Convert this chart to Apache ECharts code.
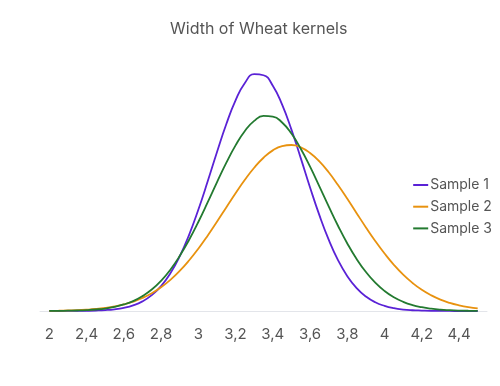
<!DOCTYPE html>
<html>
<head>
<meta charset="utf-8">
<script src="https://cdn.jsdelivr.net/npm/echarts@6/dist/echarts.min.js"></script>
<style>
  html, body { margin: 0; padding: 0; background: #ffffff; }
  #chart { width: 500px; height: 386px; }
</style>
</head>
<body>
<div id="chart"></div>
<script>
const titleText = 'Width of Wheat kernels';
// tick labels of the category axis (one per category, every second one shown)
const categories = ['2', '2,3', '2,4', '2,5', '2,6', '2,7', '2,8', '2,9', '3', '3,1', '3,2', '3,3', '3,4', '3,5', '3,6', '3,7', '3,8', '3,9', '4', '4,1', '4,2', '4,3', '4,4', '4,5'];
// kernel width positions at which the curves were read
const xs = [2.2, 2.25, 2.3, 2.35, 2.4, 2.45, 2.5, 2.55, 2.6, 2.65, 2.7, 2.75, 2.8, 2.85, 2.9, 2.95,
            3.0, 3.05, 3.1, 3.15, 3.2, 3.25, 3.3, 3.35, 3.4, 3.45, 3.5, 3.55, 3.6, 3.65, 3.7, 3.75,
            3.8, 3.85, 3.9, 3.95, 4.0, 4.05, 4.1, 4.15, 4.2, 4.25, 4.3, 4.35, 4.4, 4.45, 4.5];
const seriesNames = ['Sample 1', 'Sample 2', 'Sample 3'];
const sample1 = [0, 0.0001, 0.0003, 0.0006, 0.0014, 0.003, 0.006, 0.0117, 0.022, 0.0387,
                 0.066, 0.1086, 0.171, 0.2585, 0.375, 0.5206, 0.694, 0.887, 1.088, 1.28,
                 1.444, 1.563, 1.623, 1.616, 1.544, 1.414, 1.243, 1.048, 0.847, 0.657,
                 0.489, 0.349, 0.239, 0.157, 0.099, 0.0597, 0.035, 0.0192, 0.010, 0.0052,
                 0.003, 0.0012, 0.0005, 0.0002, 0.0001, 0, 0];
const sample2 = [0.001, 0.0021, 0.004, 0.0057, 0.009, 0.0138, 0.021, 0.0309, 0.045, 0.0639,
                 0.089, 0.1218, 0.163, 0.2138, 0.275, 0.3462, 0.427, 0.5164, 0.612, 0.71,
                 0.807, 0.8996, 0.982, 1.0505, 1.101, 1.1306, 1.138, 1.1214, 1.083, 1.0251,
                 0.951, 0.8636, 0.769, 0.6705, 0.573, 0.4798, 0.394, 0.3164, 0.249, 0.1923,
                 0.145, 0.1078, 0.078, 0.0556, 0.039, 0.0265, 0.018];
const sample3 = [0.0005, 0.001, 0.002, 0.0034, 0.006, 0.0104, 0.017, 0.0281, 0.045, 0.0681,
                 0.102, 0.1471, 0.207, 0.2833, 0.377, 0.4864, 0.610, 0.744, 0.882, 1.015,
                 1.135, 1.234, 1.303, 1.337, 1.333, 1.292, 1.216, 1.112, 0.989, 0.854,
                 0.717, 0.5845, 0.463, 0.3566, 0.267, 0.1939, 0.137, 0.0941, 0.063, 0.0407,
                 0.026, 0.0157, 0.009, 0.0054, 0.003, 0.0016, 0.001];
const colors = ['#5a22d6', '#e8920f', '#237a30'];

const chart = echarts.init(document.getElementById('chart'), null, { renderer: 'canvas' });
const font = 'Inter, "Noto Sans", sans-serif';
const values = [sample1, sample2, sample3];

chart.setOption({
  animation: false,
  color: colors,
  title: {
    text: titleText,
    left: 170,
    top: 21.5,
    padding: 0,
    textStyle: { fontFamily: font, fontSize: 16, fontWeight: 'normal', color: '#555555' }
  },
  legend: {
    orient: 'vertical',
    right: 8,
    top: 178,
    padding: 0,
    icon: 'rect',
    itemWidth: 15,
    itemHeight: 2,
    itemGap: 7.7,
    textStyle: { fontFamily: font, fontSize: 14, color: '#555555', padding: [0, 0, 0, -3] },
    data: seriesNames
  },
  grid: { left: 40, right: 13, top: 48.4, bottom: 75, containLabel: false },
  xAxis: [{
    type: 'category',
    boundaryGap: true,
    data: categories,
    axisLine: { lineStyle: { color: '#e3e5ea', width: 1 } },
    axisTick: { interval: 0, length: 5, lineStyle: { color: '#e3e5ea' } },
    axisLabel: {
      interval: 1,
      margin: 15.5,
      fontFamily: font,
      fontSize: 15,
      color: '#555555'
    },
    splitLine: { show: false }
  }, {
    type: 'value',
    min: 2.15,
    max: 4.55,
    show: false
  }],
  yAxis: {
    type: 'value',
    min: 0,
    max: 1.8,
    show: false
  },
  series: seriesNames.map((n, i) => ({
    name: n,
    type: 'line',
    xAxisIndex: 1,
    smooth: true,
    symbol: 'none',
    data: xs.map((x, j) => [x, values[i][j]]),
    lineStyle: { width: 1.8, color: colors[i] },
    itemStyle: { color: colors[i] }
  }))
});
</script>
</body>
</html>
